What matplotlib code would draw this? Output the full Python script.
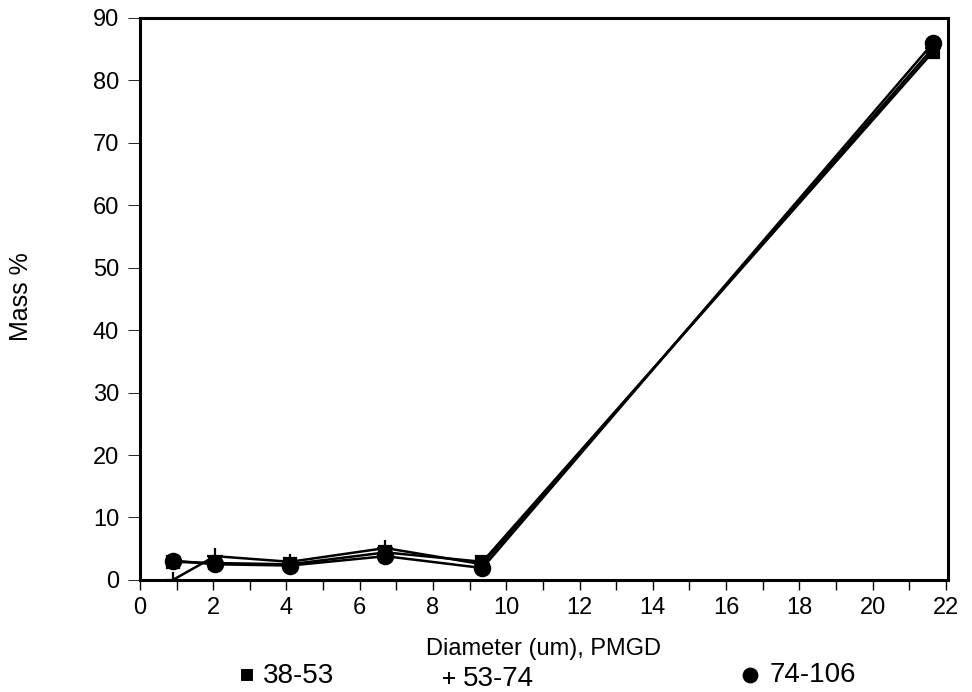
import matplotlib
matplotlib.use("Agg")
import matplotlib.pyplot as plt
from matplotlib.lines import Line2D

plt.rcParams['font.family'] = ['Liberation Sans', 'DejaVu Sans']

# Particle diameter (um, PMGD) and mass percentage per size fraction
diameter = [0.9, 2.05, 4.1, 6.7, 9.35, 21.65]
mass_38_53 = [2.9, 2.7, 2.5, 4.4, 2.9, 84.6]
mass_53_74 = [0.0, 3.8, 2.9, 5.1, 2.5, 85.2]
mass_74_106 = [3.1, 2.5, 2.3, 3.8, 1.9, 86.0]

series = [
    ("38-53", mass_38_53, "s", 8),
    ("53-74", mass_53_74, "+", 11),
    ("74-106", mass_74_106, "o", 11),
]

xticks = list(range(0, 23, 2))
yticks = list(range(0, 91, 10))

fig = plt.figure(figsize=(9.72, 6.92), dpi=100)
ax = fig.add_axes([0.144, 0.162, 0.831, 0.812])

for name, vals, mk, ms in series:
    ax.plot(diameter, vals, color="black", lw=1.8, marker=mk,
            markersize=ms, mew=1.6,
            markerfacecolor="black", markeredgecolor="black")

ax.set_xlim(0, 22.05)
ax.set_ylim(0, 90)
ax.set_xticks(xticks)
ax.set_xticks(range(0, 23), minor=True)
ax.set_yticks(yticks)
ax.tick_params(axis="x", which="both", direction="out", length=7, width=1,
               labelsize=17, pad=5)
ax.tick_params(axis="y", direction="out", length=9, width=0.6,
               labelsize=17, pad=6, colors="black")
for s in ax.spines.values():
    s.set_linewidth(2.2)

ax.set_xlabel("Diameter (um), PMGD", fontsize=17)
ax.xaxis.set_label_coords(0.5, -0.103)
ax.set_ylabel("Mass %", fontsize=18)
ax.yaxis.set_label_coords(-0.132, 0.505)

# Legend row below the axis title
legend_items = [
    ("38-53", "s", 0.254, 0.270, 0.0230, 7),
    ("53-74", "+", 0.462, 0.476, 0.0195, 8),
    ("74-106", "o", 0.772, 0.792, 0.0240, 10),
]
for label, mk, mx, tx, ty, ms in legend_items:
    fig.add_artist(Line2D([mx], [ty + 0.001], transform=fig.transFigure,
                          marker=mk, color="black", markersize=ms, mew=1.4,
                          linestyle="none"))
    fig.text(tx, ty, label, fontsize=20, va="center", ha="left")

fig.savefig("out.png", dpi=100)
